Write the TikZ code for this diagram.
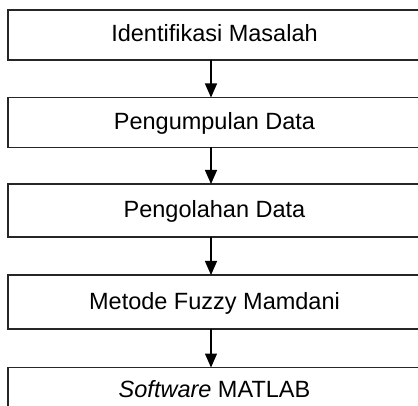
\documentclass[tikz,border=0pt]{standalone}
\usepackage{fontspec}
\setmainfont{Liberation Sans}
\usetikzlibrary{arrows.meta}
\begin{document}
\begin{tikzpicture}[x=1pt,y=-1pt,
  box/.style={draw=black!85,line width=1.1pt},
  lbl/.style={font=\fontsize{23.5}{28}\selectfont,anchor=base,inner sep=0pt},
  arr/.style={line width=1.3pt,-{Triangle[length=14pt,width=12pt]}}]
\useasboundingbox (0,0) rectangle (418,406);
\clip (0,0) rectangle (418,406);
\draw[box] (8,10) rectangle (422,60);
\draw[box] (8,97.5) rectangle (422,147.5);
\draw[box] (8,184) rectangle (422,237);
\draw[box] (8,275) rectangle (422,329);
\draw[box] (8,367.5) rectangle (422,430);
\coordinate (b1) at (211,60);
\coordinate (t2) at (211,97.5);
\coordinate (b2) at (211,147.5);
\coordinate (t3) at (211,184);
\coordinate (b3) at (211,237);
\coordinate (t4) at (211,275);
\coordinate (b4) at (211,329);
\coordinate (t5) at (211,367.5);
\node[lbl] (n1) at (214.5,41.5) {Identifikasi Masalah};
\node[lbl] (n2) at (214.5,130) {Pengumpulan Data};
\node[lbl] (n3) at (214.5,218) {Pengolahan Data};
\node[lbl] (n4) at (214.5,310) {Metode Fuzzy Mamdani};
\node[lbl] (n5) at (214.5,397) {\textit{Software} MATLAB};
\draw[arr] (b1) -- (t2);
\draw[arr] (b2) -- (t3);
\draw[arr] (b3) -- (t4);
\draw[arr] (b4) -- (t5);
\end{tikzpicture}
\end{document}
